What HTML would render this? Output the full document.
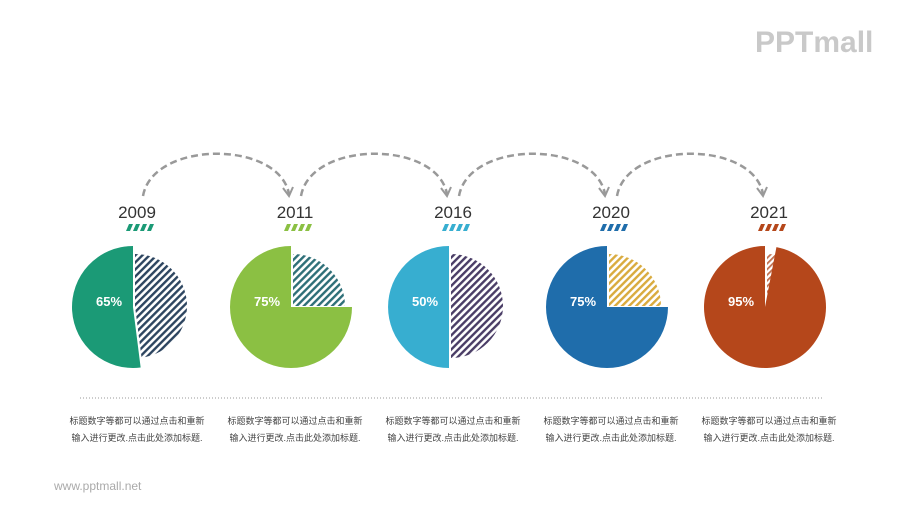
<!DOCTYPE html>
<html><head><meta charset="utf-8"><style>
body{margin:0;background:#fff;}
#wrap{position:relative;width:900px;height:506px;overflow:hidden;font-family:"Liberation Sans","Noto Sans CJK SC",sans-serif;}
</style></head><body>
<div id="wrap">
<svg id="chart" width="900" height="506">
<defs>
<pattern id="h0" width="5" height="5" patternUnits="userSpaceOnUse" patternTransform="rotate(45)"><rect width="5" height="5" fill="#fff"/><rect width="2.4" height="5" fill="#2d4560"/></pattern>
<pattern id="h1" width="5" height="5" patternUnits="userSpaceOnUse" patternTransform="rotate(45)"><rect width="5" height="5" fill="#fff"/><rect width="2.4" height="5" fill="#2e6f78"/></pattern>
<pattern id="h2" width="5" height="5" patternUnits="userSpaceOnUse" patternTransform="rotate(45)"><rect width="5" height="5" fill="#fff"/><rect width="2.4" height="5" fill="#4a3d66"/></pattern>
<pattern id="h3" width="5" height="5" patternUnits="userSpaceOnUse" patternTransform="rotate(45)"><rect width="5" height="5" fill="#fff"/><rect width="2.4" height="5" fill="#d9ab3e"/></pattern>
<pattern id="h4" width="4" height="4" patternUnits="userSpaceOnUse" patternTransform="rotate(45)"><rect width="4" height="4" fill="#fff"/><rect width="1.8" height="4" fill="#c07050"/></pattern>
</defs>
<text x="755" y="52" font-size="30" font-weight="bold" fill="#c9c9c9">PPTmall</text>
<text x="54" y="490" font-size="12" fill="#aaa">www.pptmall.net</text>
<line x1="80" y1="398" x2="823" y2="398" stroke="#999" stroke-width="1" stroke-dasharray="1,2"/>
</svg>
</div>
<script>
const years=["2009","2011","2016","2020","2021"];
const labels=["65%","75%","50%","75%","95%"];
const shares=[0.52,0.75,0.5,0.75,0.97];
const colors=["#1b9a76","#8bc043","#37aed0","#1f6dab","#b5471b"];
const caption1="标题数字等都可以通过点击和重新";
const caption2="输入进行更改.点击此处添加标题.";
const svg=document.getElementById('chart');
const NS="http://www.w3.org/2000/svg";
const x0=133, dx=158, cy=307, R=61, r=52;
function cx(i){return x0+i*dx;}
function mk(tag,attrs){const e=document.createElementNS(NS,tag);for(const k in attrs)e.setAttribute(k,attrs[k]);svg.appendChild(e);return e;}
function arc(x,y,rad,a0,a1){
  const p=a=>[x+rad*Math.sin(a*2*Math.PI),y-rad*Math.cos(a*2*Math.PI)];
  const s=p(a0),e=p(a1),large=(a1-a0)>0.5?1:0;
  return `M${x},${y}L${s[0]},${s[1]}A${rad},${rad} 0 ${large} 1 ${e[0]},${e[1]}Z`;
}
years.forEach((y,i)=>{
  const x=cx(i);
  const h=1-shares[i];
  const hp=mk('path',{d:arc(x+2,cy-1,r,0,h),fill:`url(#h${i})`});
  
  
  const cp=mk('path',{d:arc(x,cy,R,h,1),fill:colors[i]});
  
  
  const t=mk('text',{x:x-24,y:cy-1,'font-size':13,'font-weight':'bold',fill:'#fff','text-anchor':'middle'});
  t.textContent=labels[i];
  
  
  const yt=mk('text',{x:x+4,y:218,'font-size':17,fill:'#333','text-anchor':'middle'});
  yt.textContent=y;
  
  
  const g=document.createElementNS(NS,'g');
  
  
  for(let k=0;k<4;k++){const pl=document.createElementNS(NS,'polygon');const bx=x-7+k*7;pl.setAttribute('points',`${bx},231 ${bx+4},231 ${bx+7},224 ${bx+3},224`);pl.setAttribute('fill',colors[i]);g.appendChild(pl);}
  svg.appendChild(g);
  [caption1,caption2].forEach((c,j)=>{
    const ct=mk('text',{x:x+4,y:424+j*17,'font-size':9,fill:'#444','text-anchor':'middle'});
    ct.textContent=c;
    
    
  });
  if(i<years.length-1){
    const a=x+10,b=cx(i+1)-2;
    const ap=mk('path',{d:`M${a},196 C${a+10},140 ${b-10},140 ${b},194`,fill:'none',stroke:'#999','stroke-width':2.5,'stroke-dasharray':'7,4'});
    
    
    const hd=mk('polyline',{points:`${b-6},188 ${b},196 ${b+4},187`,fill:'none',stroke:'#999','stroke-width':2});
    
    
  }
});
</script>
</body></html>
